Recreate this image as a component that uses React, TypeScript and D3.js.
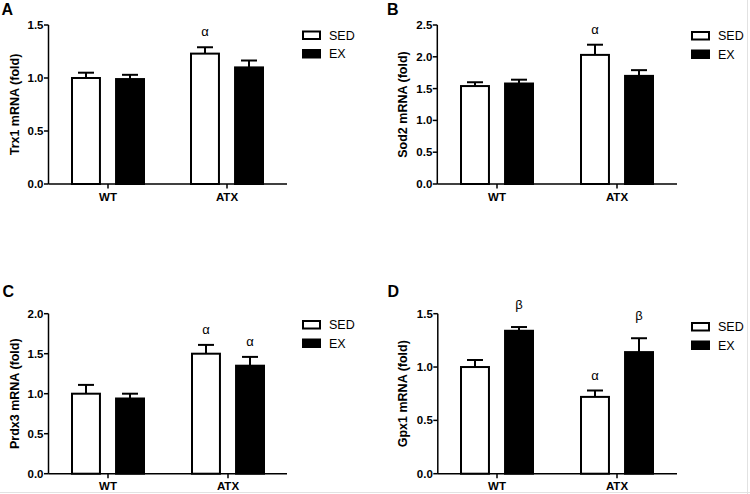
import React from "react";
import * as d3 from "d3";

const groups = ["WT", "ATX"];
const seriesNames = ["SED", "EX"];

// Panel A: Trx1
const trxSED = [1.0, 1.23];
const trxSEDerr = [0.05, 0.06];
const trxEX = [0.99, 1.1];
const trxEXerr = [0.04, 0.065];
const trxMarksSED = ["", "α"];
const trxMarksEX = ["", ""];
const trxTicks = [0, 0.5, 1.0, 1.5];

// Panel B: Sod2
const sodSED = [1.54, 2.03];
const sodSEDerr = [0.06, 0.16];
const sodEX = [1.58, 1.7];
const sodEXerr = [0.06, 0.09];
const sodMarksSED = ["", "α"];
const sodMarksEX = ["", ""];
const sodTicks = [0, 0.5, 1.0, 1.5, 2.0, 2.5];

// Panel C: Prdx3
const prdSED = [1.0, 1.5];
const prdSEDerr = [0.11, 0.11];
const prdEX = [0.94, 1.35];
const prdEXerr = [0.06, 0.11];
const prdMarksSED = ["", "α"];
const prdMarksEX = ["", "α"];
const prdTicks = [0, 0.5, 1.0, 1.5, 2.0];

// Panel D: Gpx1
const gpxSED = [1.0, 0.72];
const gpxSEDerr = [0.066, 0.06];
const gpxEX = [1.34, 1.14];
const gpxEXerr = [0.035, 0.13];
const gpxMarksSED = ["", "α"];
const gpxMarksEX = ["β", "β"];
const gpxTicks = [0, 0.5, 1.0, 1.5];

const FONT = "'Liberation Sans', Arial, sans-serif";

type PanelProps = {
  ox: number;
  oy: number;
  letter: string;
  title: string;
  axisX: number;
  xEnd: number;
  yTop: number;
  yBot: number;
  g0: number;
  g1: number;
  ticks: number[];
  sed: number[];
  sedErr: number[];
  ex: number[];
  exErr: number[];
  marksSED: string[];
  marksEX: string[];
  legX: number;
  legY: number;
  letterY: number;
  letterX: number;
  titleX: number;
};

function Panel(p: PanelProps) {
  const maxV = p.ticks[p.ticks.length - 1];
  const y = d3.scaleLinear().domain([0, maxV]).range([p.yBot, p.yTop]);
  const gx = d3.scalePoint<string>().domain(groups).range([p.g0, p.g1]);
  const sx = d3
    .scaleBand<string>()
    .domain(seriesNames)
    .range([-37, 37])
    .paddingInner(0.32);
  const bw = sx.bandwidth();
  const series = [
    { name: "SED", vals: p.sed, errs: p.sedErr, marks: p.marksSED, fill: "#fff" },
    { name: "EX", vals: p.ex, errs: p.exErr, marks: p.marksEX, fill: "#000" },
  ];
  const titleCy = (p.yTop + p.yBot) / 2;
  return (
    <g transform={`translate(${p.ox},${p.oy})`} fontFamily={FONT}>
      <text x={p.letterX} y={p.letterY} fontSize={16} fontWeight="bold">
        {p.letter}
      </text>
      <text
        transform={`translate(${p.titleX},${titleCy}) rotate(-90)`}
        textAnchor="middle"
        fontSize={12.5}
        fontWeight="bold"
      >
        {p.title}
      </text>
      {/* bars */}
      {series.map((s) =>
        groups.map((gName, i) => {
          const x0 = (gx(gName) as number) + (sx(s.name) as number);
          const top = y(s.vals[i]);
          const errTop = y(s.vals[i] + s.errs[i]);
          const cx = x0 + bw / 2;
          const mark = s.marks[i];
          return (
            <g key={s.name + gName}>
              <line x1={cx} x2={cx} y1={top} y2={errTop} stroke="#000" strokeWidth={2} />
              <line x1={cx - 8} x2={cx + 8} y1={errTop} y2={errTop} stroke="#000" strokeWidth={2} />
              <rect
                x={x0 + 1}
                y={top}
                width={bw - 2}
                height={p.yBot - top}
                fill={s.fill}
                stroke="#000"
                strokeWidth={2}
              />
              {mark && (
                <text
                  x={cx}
                  y={errTop - (mark === "β" ? 18 : 11)}
                  textAnchor="middle"
                  fontSize={13}
                >
                  {mark}
                </text>
              )}
            </g>
          );
        })
      )}
      {/* y axis */}
      <line x1={p.axisX} x2={p.axisX} y1={p.yTop} y2={p.yBot} stroke="#000" strokeWidth={1.5} />
      {p.ticks.map((t) => (
        <g key={t}>
          <line x1={p.axisX - 4.5} x2={p.axisX} y1={y(t)} y2={y(t)} stroke="#000" strokeWidth={1.5} />
          <text
            x={p.axisX - 5}
            y={y(t) + 4}
            textAnchor="end"
            fontSize={11.5}
            fontWeight="bold"
          >
            {t.toFixed(1)}
          </text>
        </g>
      ))}
      {/* x axis */}
      <line x1={p.axisX} x2={p.xEnd} y1={p.yBot} y2={p.yBot} stroke="#000" strokeWidth={1.5} />
      {groups.map((gName) => (
        <g key={gName}>
          <line
            x1={gx(gName) as number}
            x2={gx(gName) as number}
            y1={p.yBot}
            y2={p.yBot + 4.5}
            stroke="#000"
            strokeWidth={1.5}
          />
          <text
            x={gx(gName) as number}
            y={p.yBot + 16.5}
            textAnchor="middle"
            fontSize={11.5}
            fontWeight="bold"
          >
            {gName}
          </text>
        </g>
      ))}
      {/* legend */}
      {seriesNames.map((n, i) => (
        <g key={n} transform={`translate(${p.legX},${p.legY + i * 18.5})`}>
          <rect x={1} y={1} width={17} height={7.5} fill={n === "SED" ? "#fff" : "#000"} stroke="#000" strokeWidth={2} />
          <text x={27} y={9} fontSize={12.5}>
            {n}
          </text>
        </g>
      ))}
    </g>
  );
}

export default function App() {
  return (
    <svg
      width={750}
      height={494}
      style={{ position: "absolute", left: 0, top: 0, background: "#fff" }}
    >
      <rect width={750} height={494} fill="#fff" />
      <Panel
        ox={0} oy={0} letter="A" title="Trx1 mRNA (fold)"
        axisX={48.5} xEnd={287} yTop={25} yBot={184} g0={108} g1={227}
        ticks={trxTicks} sed={trxSED} sedErr={trxSEDerr} ex={trxEX} exErr={trxEXerr}
        marksSED={trxMarksSED} marksEX={trxMarksEX}
        legX={302} legY={30.5} letterX={1.5} letterY={14.5} titleX={19}
      />
      <Panel
        ox={375} oy={0} letter="B" title="Sod2 mRNA (fold)"
        axisX={62.3} xEnd={302} yTop={25} yBot={184} g0={122} g1={242}
        ticks={sodTicks} sed={sodSED} sedErr={sodSEDerr} ex={sodEX} exErr={sodEXerr}
        marksSED={sodMarksSED} marksEX={sodMarksEX}
        legX={316} legY={31} letterX={12} letterY={14.5} titleX={31.5}
      />
      <Panel
        ox={0} oy={247} letter="C" title="Prdx3 mRNA (fold)"
        axisX={48.5} xEnd={287} yTop={66.7} yBot={226.7} g0={108} g1={228}
        ticks={prdTicks} sed={prdSED} sedErr={prdSEDerr} ex={prdEX} exErr={prdEXerr}
        marksSED={prdMarksSED} marksEX={prdMarksEX}
        legX={302} legY={73} letterX={2.5} letterY={49.5} titleX={19}
      />
      <Panel
        ox={375} oy={247} letter="D" title="Gpx1 mRNA (fold)"
        axisX={62.8} xEnd={302} yTop={66.7} yBot={226.7} g0={122} g1={242}
        ticks={gpxTicks} sed={gpxSED} sedErr={gpxSEDerr} ex={gpxEX} exErr={gpxEXerr}
        marksSED={gpxMarksSED} marksEX={gpxMarksEX}
        legX={316} legY={75} letterX={12.5} letterY={49.5} titleX={31.5}
      />
      <line x1={747.5} x2={747.5} y1={0} y2={494} stroke="#e2e2e2" strokeWidth={1} />
      <line x1={0} x2={750} y1={492.5} y2={492.5} stroke="#e2e2e2" strokeWidth={1} />
    </svg>
  );
}
